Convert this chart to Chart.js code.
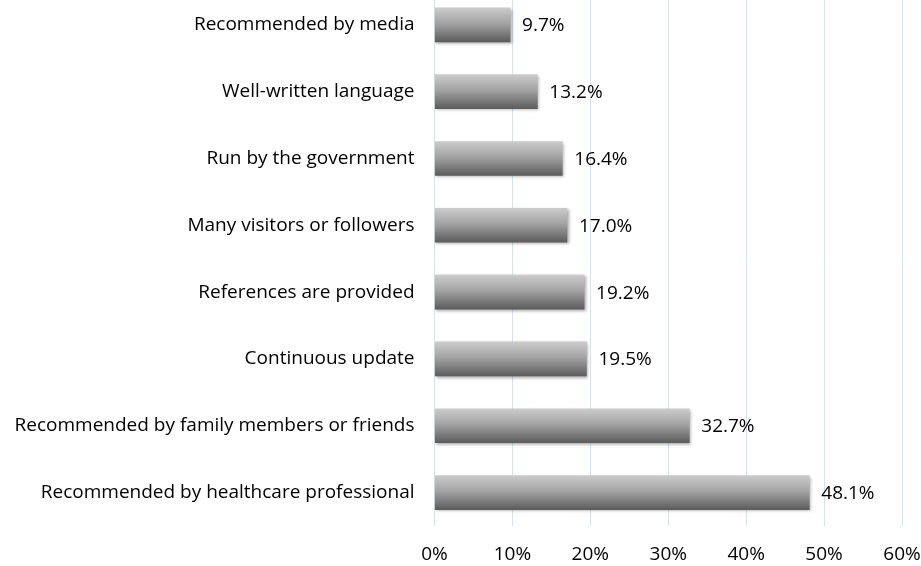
<!DOCTYPE html>
<html>
<head>
<meta charset="utf-8">
<script src="https://cdn.jsdelivr.net/npm/chart.js@4"></script>
<style>
  html, body { margin: 0; padding: 0; background: #fff; overflow: hidden; }
  #wrap { position: absolute; left: 0; top: -20px; width: 921px; height: 586px; }
</style>
</head>
<body>
<div id="wrap"><canvas id="c" width="921" height="586"></canvas></div>
<script>
const categories = [
  "Recommended by media",
  "Well-written language",
  "Run by the government",
  "Many visitors or followers",
  "References are provided",
  "Continuous update",
  "Recommended by family members or friends",
  "Recommended by healthcare professional"
];
const values = [9.7, 13.2, 16.4, 17.0, 19.2, 19.5, 32.7, 48.1];
const xTicks = [0, 10, 20, 30, 40, 50, 60];

const FONT = "'Open Sans', sans-serif";
const FSIZE = 19;
const BAR_H = 34;

function barGradient(ctx) {
  const chart = ctx.chart;
  const ys = chart.scales && chart.scales.y;
  if (!ys || !chart.chartArea || ctx.dataIndex === undefined) return '#8a8a8a';
  const cy = ys.getPixelForValue(ctx.dataIndex);
  const g = chart.ctx.createLinearGradient(0, cy - BAR_H / 2, 0, cy + BAR_H / 2);
  g.addColorStop(0, '#cbcbcb');
  g.addColorStop(0.45, '#a4a4a4');
  g.addColorStop(1, '#5c5c5c');
  return g;
}

const shadowPlugin = {
  id: 'shadow',
  beforeDatasetsDraw(chart) {
    const c = chart.ctx;
    c.save();
    c.shadowColor = 'rgba(0,0,0,0.35)';
    c.shadowBlur = 3;
    c.shadowOffsetX = 1.5;
    c.shadowOffsetY = 1.5;
  },
  afterDatasetsDraw(chart) {
    chart.ctx.restore();
    const c = chart.ctx;
    const meta = chart.getDatasetMeta(0);
    c.save();
    c.font = FSIZE + "px " + FONT;
    c.fillStyle = '#000';
    c.textAlign = 'left';
    c.textBaseline = 'middle';
    meta.data.forEach((el, i) => {
      c.fillText(values[i].toFixed(1) + '%', el.x + 12, el.y + 1);
    });
    c.restore();
  }
};

new Chart(document.getElementById('c'), {
  type: 'bar',
  data: {
    labels: categories,
    datasets: [{
      data: values,
      backgroundColor: barGradient,
      borderWidth: 0,
      barThickness: BAR_H
    }]
  },
  options: {
    indexAxis: 'y',
    responsive: false,
    animation: false,
    devicePixelRatio: 1,
    layout: { padding: { left: 0, right: 19, top: 0, bottom: 0 } },
    plugins: { legend: { display: false }, tooltip: { enabled: false } },
    scales: {
      x: {
        min: 0, max: 60,
        afterBuildTicks(scale) { scale.ticks = xTicks.map(v => ({ value: v })); },
        afterFit(scale) { scale.height = 40; },
        border: { display: false },
        grid: { color: '#d7e2f0', lineWidth: 1, drawTicks: true, tickLength: 17, tickColor: 'rgba(0,0,0,0)' },
        ticks: {
          padding: 0,
          color: '#000',
          font: { family: FONT, size: FSIZE },
          callback: v => v + '%',
          maxRotation: 0
        }
      },
      y: {
        afterFit(scale) { scale.width = 434.5; },
        border: { display: false },
        grid: { display: false, drawTicks: true, tickLength: 20 },
        ticks: {
          padding: 0,
          color: '#000',
          font: { family: FONT, size: FSIZE }
        }
      }
    }
  },
  plugins: [shadowPlugin]
});
</script>
</body>
</html>
